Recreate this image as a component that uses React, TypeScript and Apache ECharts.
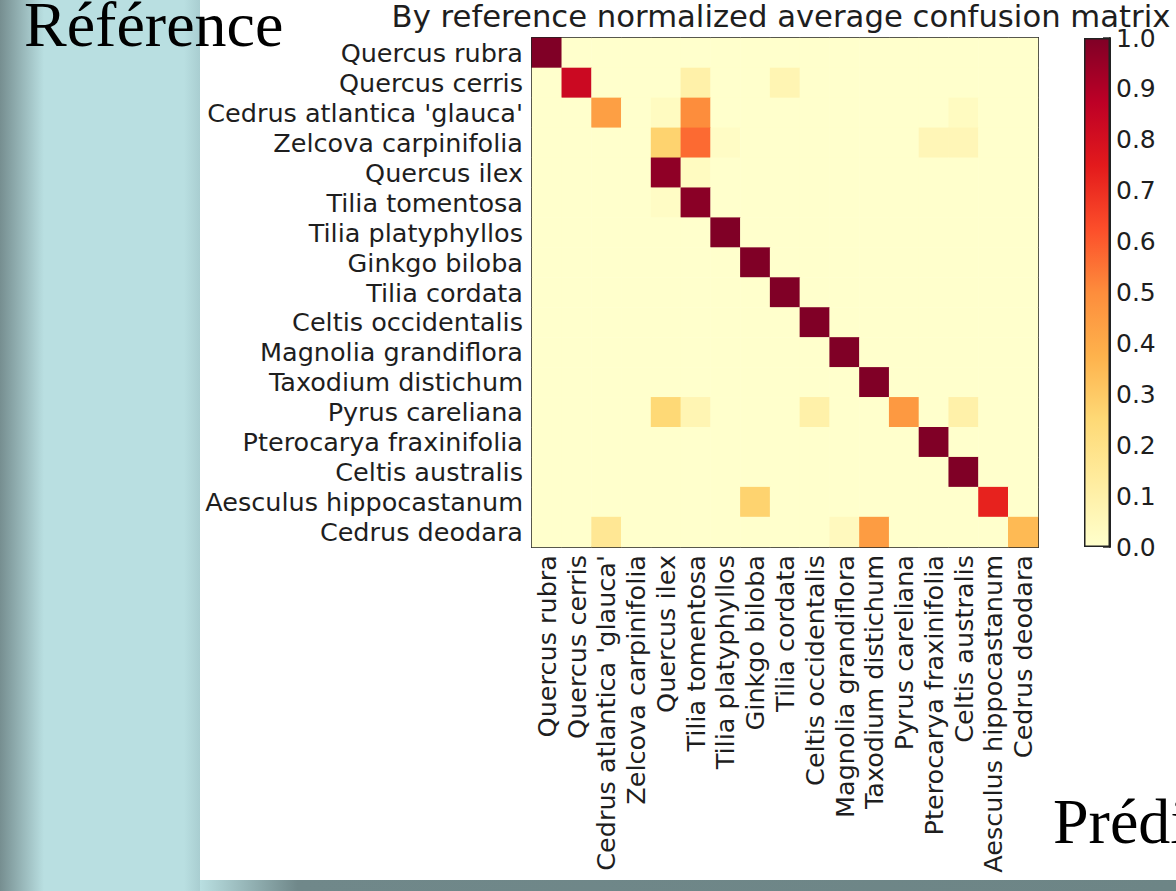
import React, { useEffect, useRef } from "react";
import * as echarts from "echarts";

// Species, in the order used for both reference (rows) and prediction (columns)
const species = [
  "Quercus rubra",
  "Quercus cerris",
  "Cedrus atlantica 'glauca'",
  "Zelcova carpinifolia",
  "Quercus ilex",
  "Tilia tomentosa",
  "Tilia platyphyllos",
  "Ginkgo biloba",
  "Tilia cordata",
  "Celtis occidentalis",
  "Magnolia grandiflora",
  "Taxodium distichum",
  "Pyrus careliana",
  "Pterocarya fraxinifolia",
  "Celtis australis",
  "Aesculus hippocastanum",
  "Cedrus deodara",
];

// Row-normalised confusion rates: one row per reference species
const rowQuercusRubra = [1.0, 0, 0, 0, 0, 0, 0, 0, 0, 0, 0, 0, 0, 0, 0, 0, 0];
const rowQuercusCerris = [0, 0.83, 0, 0, 0, 0.1, 0, 0, 0.07, 0, 0, 0, 0, 0, 0, 0, 0];
const rowCedrusAtlantica = [0, 0, 0.44, 0, 0.03, 0.5, 0, 0, 0, 0, 0, 0, 0, 0, 0.03, 0, 0];
const rowZelcova = [0, 0, 0, 0, 0.27, 0.57, 0.02, 0, 0, 0, 0, 0, 0, 0.06, 0.06, 0, 0];
const rowQuercusIlex = [0, 0, 0, 0, 0.97, 0.03, 0, 0, 0, 0, 0, 0, 0, 0, 0, 0, 0];
const rowTiliaTomentosa = [0, 0, 0, 0, 0.02, 0.98, 0, 0, 0, 0, 0, 0, 0, 0, 0, 0, 0];
const rowTiliaPlatyphyllos = [0, 0, 0, 0, 0, 0, 1.0, 0, 0, 0, 0, 0, 0, 0, 0, 0, 0];
const rowGinkgo = [0, 0, 0, 0, 0, 0, 0, 1.0, 0, 0, 0, 0, 0, 0, 0, 0, 0];
const rowTiliaCordata = [0, 0, 0, 0, 0, 0, 0, 0, 1.0, 0, 0, 0, 0, 0, 0, 0, 0];
const rowCeltisOccidentalis = [0, 0, 0, 0, 0, 0, 0, 0, 0, 1.0, 0, 0, 0, 0, 0, 0, 0];
const rowMagnolia = [0, 0, 0, 0, 0, 0, 0, 0, 0, 0, 1.0, 0, 0, 0, 0, 0, 0];
const rowTaxodium = [0, 0, 0, 0, 0, 0, 0, 0, 0, 0, 0, 1.0, 0, 0, 0, 0, 0];
const rowPyrus = [0, 0, 0, 0, 0.25, 0.07, 0, 0, 0, 0.1, 0, 0, 0.46, 0, 0.1, 0, 0];
const rowPterocarya = [0, 0, 0, 0, 0, 0, 0, 0, 0, 0, 0, 0, 0, 1.0, 0, 0, 0];
const rowCeltisAustralis = [0, 0, 0, 0, 0, 0, 0, 0, 0, 0, 0, 0, 0, 0, 1.0, 0, 0];
const rowAesculus = [0, 0, 0, 0, 0, 0, 0, 0.27, 0, 0, 0, 0, 0, 0, 0, 0.73, 0];
const rowCedrusDeodara = [0, 0, 0.16, 0, 0, 0, 0, 0, 0, 0, 0.04, 0.45, 0, 0, 0, 0, 0.35];

const confusion = [
  rowQuercusRubra,
  rowQuercusCerris,
  rowCedrusAtlantica,
  rowZelcova,
  rowQuercusIlex,
  rowTiliaTomentosa,
  rowTiliaPlatyphyllos,
  rowGinkgo,
  rowTiliaCordata,
  rowCeltisOccidentalis,
  rowMagnolia,
  rowTaxodium,
  rowPyrus,
  rowPterocarya,
  rowCeltisAustralis,
  rowAesculus,
  rowCedrusDeodara,
];

// Colour bar range and tick step
const colorbarMin = 0;
const colorbarMax = 1;
const colorbarStep = 0.1;

// YlOrRd colour map, low to high
const ylOrRd = [
  "#ffffcc",
  "#ffeda0",
  "#fed976",
  "#feb24c",
  "#fd8d3c",
  "#fc4e2a",
  "#e31a1c",
  "#bd0026",
  "#800026",
];

const TITLE = "By reference normalized average confusion matrix";
const FONT = "'DejaVu Sans', 'Bitstream Vera Sans', sans-serif";
const SERIF = "'Liberation Serif', 'Times New Roman', serif";
const INK = "#1e1e1e";

export default function App() {
  const ref = useRef<HTMLDivElement>(null);

  useEffect(() => {
    if (!ref.current) return;
    const chart = echarts.init(ref.current, undefined, { renderer: "svg" });

    const cells: [number, number, number][] = [];
    confusion.forEach((row, r) => {
      row.forEach((v, c) => cells.push([c, r, v]));
    });

    const tickStyle = { color: "#2a2a2a", width: 1.5 };
    const frameLine = { show: true, lineStyle: { color: "#222", width: 2 } };

    const grid = { left: 532, top: 38, width: 506, height: 509 };
    const barGrid = { left: 1084, top: 38, width: 26, height: 509 };

    const option: echarts.EChartsOption = {
      animation: false,
      backgroundColor: "transparent",
      title: {
        text: TITLE,
        left: 781,
        top: 1,
        textAlign: "center",
        padding: 0,
        textStyle: {
          fontFamily: FONT,
          fontSize: 30.7,
          fontWeight: "normal",
          color: INK,
        },
      },
      graphic: [
        {
          type: "rect",
          z: -100,
          silent: true,
          shape: { x: 0, y: 0, width: 200, height: 891 },
          style: {
            fill: {
              type: "linear",
              x: 0,
              y: 0,
              x2: 1,
              y2: 0,
              colorStops: [
                { offset: 0, color: "#768e90" },
                { offset: 0.22, color: "#b9dfe1" },
                { offset: 0.92, color: "#b9dfe1" },
                { offset: 1, color: "#a9ced1" },
              ],
            } as any,
          },
        },
        {
          type: "rect",
          z: -100,
          silent: true,
          shape: { x: 200, y: 880, width: 976, height: 11 },
          style: {
            fill: {
              type: "linear",
              x: 0,
              y: 0,
              x2: 1,
              y2: 0,
              colorStops: [
                { offset: 0, color: "#b9dfe1" },
                { offset: 0.1, color: "#70888a" },
                { offset: 1, color: "#6d8586" },
              ],
            } as any,
          },
        },
        {
          type: "rect",
          z: -99,
          silent: true,
          shape: { x: 200, y: 0, width: 976, height: 880 },
          style: { fill: "#ffffff" },
        },
        {
          type: "text",
          z: 10,
          silent: true,
          x: 24,
          y: 24,
          style: {
            text: "Référence",
            font: `64px ${SERIF}`,
            fill: "#000",
            textAlign: "left",
            textVerticalAlign: "middle",
          } as any,
        },
        {
          type: "text",
          z: 10,
          silent: true,
          x: 1053,
          y: 821,
          style: {
            text: "Prédiction",
            font: `64px ${SERIF}`,
            fill: "#000",
            textAlign: "left",
            textVerticalAlign: "middle",
          } as any,
        },
      ],
      grid: [grid, barGrid],
      xAxis: [
        {
          type: "category",
          gridIndex: 0,
          data: species,
          position: "bottom",
          axisLine: frameLine,
          axisTick: { show: true, inside: true, length: 8, alignWithLabel: true, interval: 0, lineStyle: tickStyle },
          axisLabel: {
            interval: 0,
            rotate: 90,
            margin: 8,
            fontFamily: FONT,
            fontSize: 25.5,
            color: INK,
          },
          splitLine: { show: false },
        },
        {
          type: "category",
          gridIndex: 0,
          data: species,
          position: "top",
          axisLine: frameLine,
          axisTick: { show: true, inside: true, length: 8, alignWithLabel: true, interval: 0, lineStyle: tickStyle },
          axisLabel: { show: false },
          splitLine: { show: false },
        },
        {
          type: "category",
          gridIndex: 1,
          data: ["scale"],
          show: false,
        },
      ],
      yAxis: [
        {
          type: "category",
          gridIndex: 0,
          data: species,
          inverse: true,
          position: "left",
          axisLine: frameLine,
          axisTick: { show: true, inside: true, length: 8, alignWithLabel: true, interval: 0, lineStyle: tickStyle },
          axisLabel: {
            interval: 0,
            margin: 9,
            fontFamily: FONT,
            fontSize: 25.5,
            color: INK,
          },
          splitLine: { show: false },
        },
        {
          type: "category",
          gridIndex: 0,
          data: species,
          inverse: true,
          position: "right",
          axisLine: frameLine,
          axisTick: { show: true, inside: true, length: 8, alignWithLabel: true, interval: 0, lineStyle: tickStyle },
          axisLabel: { show: false },
          splitLine: { show: false },
        },
        {
          type: "value",
          gridIndex: 1,
          min: colorbarMin,
          max: colorbarMax,
          interval: colorbarStep,
          position: "right",
          axisLine: frameLine,
          axisTick: { show: true, inside: true, length: 7, lineStyle: tickStyle },
          axisLabel: {
            margin: 6,
            fontFamily: FONT,
            fontSize: 25,
            color: INK,
            formatter: (v: number) => v.toFixed(1),
          },
          splitLine: { show: false },
        },
      ],
      visualMap: {
        show: false,
        type: "continuous",
        seriesIndex: 0,
        dimension: 2,
        min: colorbarMin,
        max: colorbarMax,
        inRange: { color: ylOrRd },
      },
      series: [
        {
          type: "heatmap",
          xAxisIndex: 0,
          yAxisIndex: 0,
          data: cells,
          itemStyle: { borderWidth: 0 },
          emphasis: { disabled: true },
        },
        {
          // colour bar
          type: "bar",
          xAxisIndex: 2,
          yAxisIndex: 2,
          data: [colorbarMax],
          barWidth: "100%",
          silent: true,
          itemStyle: {
            borderColor: "#222",
            borderWidth: 1.5,
            color: {
              type: "linear",
              x: 0,
              y: 1,
              x2: 0,
              y2: 0,
              colorStops: ylOrRd.map((c, i) => ({ offset: i / (ylOrRd.length - 1), color: c })),
            } as any,
          },
        },
      ],
    };

    chart.setOption(option);
    return () => chart.dispose();
  }, []);

  return (
    <div
      ref={ref}
      style={{ position: "absolute", left: 0, top: 0, width: 1176, height: 891, overflow: "hidden" }}
    />
  );
}
